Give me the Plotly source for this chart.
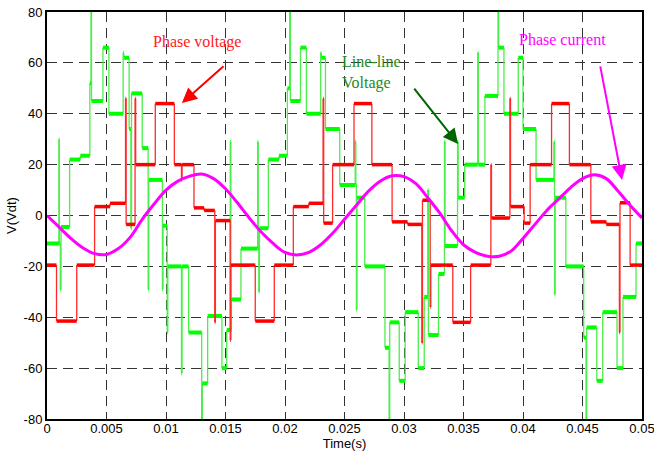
import plotly.graph_objects as go

# ---------------- data ----------------
# Phase voltage (red) : step levels, each value holds until the next time
red_t = [0.0000, 0.0008, 0.0025, 0.0040, 0.0053, 0.0066, 0.00665, 0.0074, 0.00745,
         0.0091, 0.0107, 0.0113, 0.01135, 0.01235, 0.0132, 0.0141, 0.01415, 0.0154,
         0.01545, 0.0175, 0.0191, 0.0207, 0.0220, 0.0232, 0.02325, 0.0240, 0.0258,
         0.0273, 0.0290, 0.0303, 0.0315, 0.03155, 0.0322, 0.03225, 0.0341, 0.0356,
         0.0373, 0.03735, 0.0389, 0.03895, 0.0401, 0.0406, 0.0424, 0.0439, 0.0457,
         0.0470, 0.0481, 0.04815, 0.0490, 0.0500]
red_v = [-19.5, -41.5, -19.5, 3.5, 4.8, 46, -3.5, 46, 20,
         44, 20, 14, 20, 3, 2, -42, -2, -49,
         -19.5, -41.5, -19.5, 3.5, 4.8, 46, -3, 20, 44,
         20, -2.5, -3.5, -50, 6, -36, -19.5, -42, -19.5,
         20, -1, 46, 3.5, -3, 20, 44, 20, -2.5,
         -3.5, -46, 5, -19.5, -19.5]

# Line-line voltage (green) : step levels
green_t = [0.0000, 0.0010, 0.00104, 0.00112, 0.00118, 0.0019, 0.0028, 0.0036, 0.0037,
           0.00374, 0.0047, 0.0052, 0.0064, 0.00645, 0.0069, 0.00705, 0.0071, 0.0080,
           0.0085, 0.00855, 0.0097, 0.00975, 0.0101, 0.01015, 0.0113, 0.01135, 0.0119,
           0.0130, 0.01305, 0.0135, 0.0147, 0.0151, 0.0154, 0.01545, 0.0155, 0.0163,
           0.0177, 0.01775, 0.0178, 0.01785, 0.0186, 0.0195, 0.0202, 0.0204, 0.02045,
           0.0213, 0.0218, 0.0230, 0.02305, 0.0234, 0.0246, 0.0259, 0.02595, 0.0260,
           0.02605, 0.0267, 0.0284, 0.02875, 0.0288, 0.0296, 0.0301, 0.0312, 0.0317,
           0.0320, 0.03205, 0.0329, 0.0334, 0.03345, 0.0345, 0.03455, 0.0351, 0.0362,
           0.03625, 0.0368, 0.0379, 0.03795, 0.0384, 0.0396, 0.0400, 0.0411, 0.0426,
           0.04265, 0.0427, 0.0436, 0.0451, 0.0453, 0.04535, 0.0462, 0.0467, 0.0479,
           0.0484, 0.0495, 0.0500]
green_v = [-11, 30, -11, -29, -4.5, 22, 23.5, 52, 80,
           45, 66, 40, 64, 62, 34, -5, 48, 26.5,
           -29, 14, -29, -4, -46, -20, -62, -20, -46,
           -80, -66, -39.5, -60, -45, 29, -45, -33, -13,
           29, -13, -30, -5, 22, 23.5, 50, 80, 45,
           66, 40, 64, 62, 34, 12, 29, 12, -37,
           7, -20, -52, -80, -42, -65, -38, -60, -32,
           10, -47, -23, 29, -12, 29, 7, 20, 64,
           20, 47, 80, 66, 40, 62, 34, 14, 29,
           -31, 7, -20, -48, -80, -44, -65, -38, -60,
           -32, -11, -11]

# Phase current (magenta), sampled every 1 ms
cur_t = [0.000, 0.001, 0.002, 0.003, 0.004, 0.005, 0.006, 0.007, 0.008, 0.009,
         0.010, 0.011, 0.012, 0.013, 0.014, 0.015, 0.016, 0.017, 0.018, 0.019,
         0.020, 0.021, 0.022, 0.023, 0.024, 0.025, 0.026, 0.027, 0.028, 0.029,
         0.030, 0.031, 0.032, 0.033, 0.034, 0.035, 0.036, 0.037, 0.038, 0.039,
         0.040, 0.041, 0.042, 0.043, 0.044, 0.045, 0.046, 0.047, 0.048, 0.049,
         0.050]
cur_v = [0.0, -4.5, -9.0, -12.7, -15.0, -15.3, -13.0, -8.5, -1.5, 4.5,
         10.0, 13.5, 15.5, 16.3, 14.5, 10.5, 5.0, -1.0, -6.5, -11.0,
         -14.5, -15.5, -14.5, -11.5, -7.0, -1.5, 4.0, 9.5, 13.5, 15.6,
         15.3, 12.5, 7.0, 1.0, -6.0, -11.5, -14.5, -16.0, -16.0, -14.0,
         -9.0, -3.5, 2.0, 6.5, 11.0, 14.5, 16.0, 14.5, 9.5, 4.0,
         -1.0]

x_ticks = [0, 0.005, 0.01, 0.015, 0.02, 0.025, 0.03, 0.035, 0.04, 0.045, 0.05]
x_labels = ["0", "0.005", "0.01", "0.015", "0.02", "0.025", "0.03", "0.035", "0.04", "0.045", "0.05"]
y_ticks = [-80, -60, -40, -20, 0, 20, 40, 60, 80]
y_labels = ["-80", "-60", "-40", "-20", "0", "20", "40", "60", "80"]


def plateaus(t, v):
    xs, ys = [], []
    for i in range(len(t) - 1):
        xs += [t[i], t[i + 1], None]
        ys += [v[i], v[i], None]
    return xs, ys


def risers(t, v):
    xs, ys = [], []
    for i in range(len(t) - 1):
        xs += [t[i + 1], t[i + 1], None]
        ys += [v[i], v[i + 1], None]
    return xs, ys


# ---------------- figure ----------------
fig = go.Figure()

gx, gy = risers(green_t, green_v)
fig.add_trace(go.Scatter(x=gx, y=gy, mode="lines", line=dict(color="#4cee4c", width=1.3),
                         hoverinfo="skip"))
gx, gy = plateaus(green_t, green_v)
fig.add_trace(go.Scatter(x=gx, y=gy, mode="lines", line=dict(color="#00ff00", width=4),
                         name="Line-line Voltage"))

rx, ry = risers(red_t, red_v)
fig.add_trace(go.Scatter(x=rx, y=ry, mode="lines", line=dict(color="#ff2a2a", width=1.3),
                         hoverinfo="skip"))
rx, ry = plateaus(red_t, red_v)
fig.add_trace(go.Scatter(x=rx, y=ry, mode="lines", line=dict(color="#ff0000", width=3.5),
                         name="Phase voltage"))

fig.add_trace(go.Scatter(x=cur_t, y=cur_v, mode="lines", line_shape="spline",
                         line=dict(color="#ff00ff", width=3), name="Phase current"))

serif = "Liberation Serif, Times New Roman, serif"
sans = "Liberation Sans, Arial, sans-serif"

annotations = [
    dict(x=0.0126, y=68.2, text="Phase voltage", showarrow=False,
         font=dict(family=serif, size=16, color="#ff2020")),
    dict(x=0.01134, y=44.2, ax=0.01496, ay=59.2, axref="x", ayref="y", text="",
         showarrow=True, arrowhead=2, arrowsize=1.5, arrowwidth=2, arrowcolor="#ff0000"),
    dict(x=0.0246, y=56.4, text="Line-line<br>Voltage", showarrow=False, xanchor="left",
         align="left", font=dict(family=serif, size=16, color="#1a8a1a")),
    dict(x=0.03454, y=28.1, ax=0.03076, ay=50.5, axref="x", ayref="y", text="",
         showarrow=True, arrowhead=2, arrowsize=1.5, arrowwidth=2, arrowcolor="#006400"),
    dict(x=0.04328, y=69.0, text="Phase current", showarrow=False,
         font=dict(family=serif, size=16, color="#ff00ff")),
    dict(x=0.04832, y=14.0, ax=0.04647, ay=59.2, axref="x", ayref="y", text="",
         showarrow=True, arrowhead=2, arrowsize=1.5, arrowwidth=2, arrowcolor="#ff00ff"),
]

axis_common = dict(showgrid=True, griddash="10px,6px", gridcolor="#333333", gridwidth=1,
                   showline=True, mirror=True, linecolor="black", linewidth=2,
                   zeroline=False, ticks="", automargin=False, ticklabeloverflow="allow",
                   tickfont=dict(family=sans, size=13, color="black"))

fig.update_layout(
    width=654, height=452,
    margin=dict(l=47, r=12, t=12, b=33),
    paper_bgcolor="white", plot_bgcolor="white",
    showlegend=False,
    annotations=annotations,
    xaxis=dict(range=[0, 0.05], tickvals=x_ticks, ticktext=x_labels,
               title=dict(text="Time(s)", font=dict(family=sans, size=13, color="black"), standoff=0),
               **axis_common),
    yaxis=dict(range=[-80, 80], tickvals=y_ticks, ticktext=y_labels,
               title=dict(text="V(Vdt)", font=dict(family=sans, size=13, color="black"), standoff=4),
               **axis_common),
)

try:
    fig.update_xaxes(ticklabelstandoff=-4)
except Exception:
    pass

fig.write_html("out.html")
